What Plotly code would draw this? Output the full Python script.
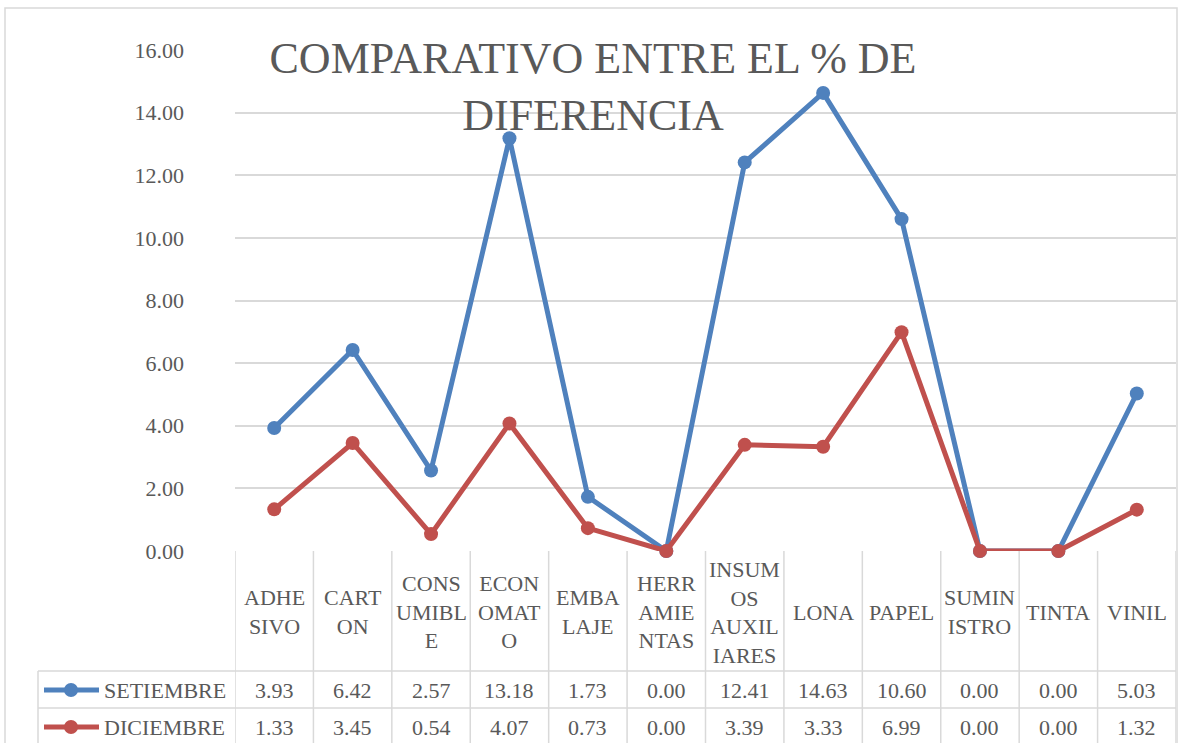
import plotly.graph_objects as go

# ---- data ----
categories = ["ADHESIVO", "CARTON", "CONSUMIBLE", "ECONOMATO", "EMBALAJE", "HERRAMIENTAS",
              "INSUMOS AUXILIARES", "LONA", "PAPEL", "SUMINISTRO", "TINTA", "VINIL"]
category_labels = ["ADHE<br>SIVO", "CART<br>ON", "CONS<br>UMIBL<br>E", "ECON<br>OMAT<br>O",
                   "EMBA<br>LAJE", "HERR<br>AMIE<br>NTAS", "INSUM<br>OS<br>AUXIL<br>IARES",
                   "LONA", "PAPEL", "SUMIN<br>ISTRO", "TINTA", "VINIL"]
series_names = ["SETIEMBRE", "DICIEMBRE"]
setiembre = [3.93, 6.42, 2.57, 13.18, 1.73, 0.00, 12.41, 14.63, 10.60, 0.00, 0.00, 5.03]
diciembre = [1.33, 3.45, 0.54, 4.07, 0.73, 0.00, 3.39, 3.33, 6.99, 0.00, 0.00, 1.32]
y_ticks = [0, 2, 4, 6, 8, 10, 12, 14, 16]
title_text = "COMPARATIVO ENTRE EL % DE<br>DIFERENCIA"

# ---- layout helpers ----
W, H = 1178, 743
L, R, T, B = 235, 2, 50, 192
PW, PH = W - L - R, H - T - B
FONT = "Liberation Serif"
TXT = "#595959"
GRID = "#d9d9d9"
colors = ["#4f81bd", "#c0504d"]
FS = 22


def px(p):
    return (p - L) / PW


def py(p):
    return (H - B - p) / PH


fig = go.Figure()
for name, vals, col in zip(series_names, [setiembre, diciembre], colors):
    fig.add_trace(go.Scatter(
        x=categories, y=vals, name=name, mode="lines+markers",
        line=dict(color=col, width=5),
        marker=dict(color=col, size=14, symbol="circle"),
        cliponaxis=False, showlegend=False,
    ))

shapes = []
# chart border
shapes.append(dict(type="rect", xref="paper", yref="paper", x0=px(5), x1=px(1177),
                   y0=py(8), y1=py(770), line=dict(color=GRID, width=1.5), layer="below"))
# table vertical lines under each category
for i in range(len(categories) + 1):
    shapes.append(dict(type="line", xref="x", yref="paper", x0=i - 0.5, x1=i - 0.5,
                       y0=py(551), y1=py(770), line=dict(color=GRID, width=1.5)))
# legend column left border
shapes.append(dict(type="line", xref="paper", yref="paper", x0=px(38), x1=px(38),
                   y0=py(671), y1=py(770), line=dict(color=GRID, width=1.5)))
# table horizontal lines
for yy in [671, 708, 745]:
    shapes.append(dict(type="line", xref="paper", yref="paper", x0=px(38), x1=px(1176),
                       y0=py(yy), y1=py(yy), line=dict(color=GRID, width=1.5)))

annotations = []
# category header cells
for cat, lab in zip(categories, category_labels):
    annotations.append(dict(x=cat, xref="x", y=py(612), yref="paper", text=lab,
                            showarrow=False, xanchor="center", yanchor="middle",
                            font=dict(family=FONT, size=FS, color=TXT)))
# value rows with legend keys
row_centers = [690, 727]
for name, vals, col, rc in zip(series_names, [setiembre, diciembre], colors, row_centers):
    shapes.append(dict(type="line", xref="paper", yref="paper", x0=px(44), x1=px(99),
                       y0=py(rc), y1=py(rc), line=dict(color=col, width=5)))
    shapes.append(dict(type="circle", xref="paper", yref="paper", x0=px(64), x1=px(78),
                       y0=py(rc + 7), y1=py(rc - 7), fillcolor=col, line=dict(color=col, width=0)))
    annotations.append(dict(x=px(102), xref="paper", y=py(rc), yref="paper", text=name,
                            showarrow=False, xanchor="left", yanchor="middle",
                            font=dict(family=FONT, size=FS, color=TXT)))
    for cat, v in zip(categories, vals):
        annotations.append(dict(x=cat, xref="x", y=py(rc), yref="paper", text=f"{v:.2f}",
                                showarrow=False, xanchor="center", yanchor="middle",
                                font=dict(family=FONT, size=FS, color=TXT)))

fig.update_layout(
    width=W, height=H, autosize=False,
    margin=dict(l=L, r=R, t=T, b=B, pad=0),
    paper_bgcolor="white", plot_bgcolor="white",
    title=dict(text=title_text, x=593 / W, xanchor="center", xref="container",
               y=1 - 73 / H, yanchor="middle", yref="container",
               font=dict(family=FONT, size=44, color=TXT)),
    xaxis=dict(type="category", categoryorder="array", categoryarray=categories,
               range=[-0.5, len(categories) - 0.5], showticklabels=False,
               showgrid=False, zeroline=False, showline=False, ticks="", automargin=False),
    yaxis=dict(range=[0, 16], tickvals=y_ticks, ticktext=[f"{t:.2f}" for t in y_ticks],
               showgrid=True, gridcolor=GRID, gridwidth=1.5, zeroline=False,
               showline=False, ticks="", ticklabelstandoff=50, automargin=False,
               tickfont=dict(family=FONT, size=FS, color=TXT)),
    shapes=shapes, annotations=annotations,
    font=dict(family=FONT, color=TXT),
)

fig.write_html("out.html", config={"displayModeBar": False},
               post_script="document.body.style.margin='0';")
